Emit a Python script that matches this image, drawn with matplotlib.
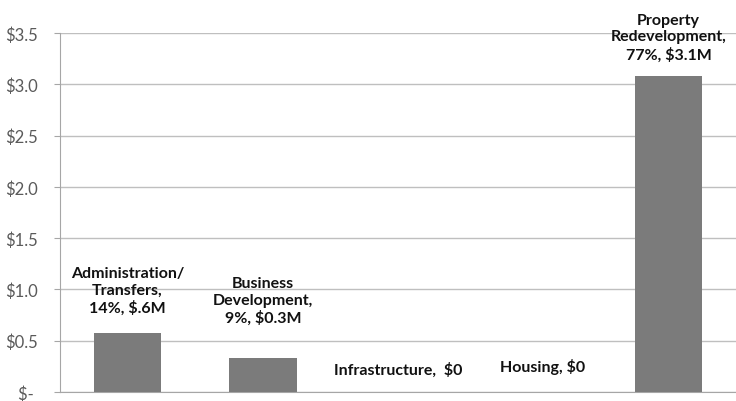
import matplotlib
matplotlib.use("Agg")
import matplotlib.pyplot as plt
from matplotlib.ticker import FixedLocator

# Spending by category, in millions of dollars
categories = ["Administration/\nTransfers", "Business\nDevelopment", "Infrastructure",
              "Housing", "Property\nRedevelopment"]
values = [0.58, 0.33, 0.0, 0.0, 3.08]
label_texts = [
    "Administration/\nTransfers,\n14%, $.6M",
    "Business\nDevelopment,\n9%, $0.3M",
    "Infrastructure,  $0",
    "Housing, $0",
    "Property\nRedevelopment,\n77%, $3.1M",
]
# label centre positions (x offset in category units, y in $M)
label_dx = [0.0, 0.0, 0.0, 0.07, 0.0]
label_y = [0.99, 0.89, 0.22, 0.25, 3.46]

y_ticks = [0.0, 0.5, 1.0, 1.5, 2.0, 2.5, 3.0, 3.5]
y_tick_labels = ["$- ", "$0.5", "$1.0", "$1.5", "$2.0", "$2.5", "$3.0", "$3.5"]

plt.rcParams["font.family"] = ["Lato", "DejaVu Sans"]

fig = plt.figure(figsize=(7.36, 4.02), dpi=100)
ax = fig.add_axes([60 / 736, 1 - 393 / 402, 1 - 60 / 736, (393 - 34) / 402])

x = list(range(len(categories)))
ax.bar(x, values, width=0.5, color="#7b7b7b", zorder=3)

ax.set_xlim(-0.5, len(categories) - 0.5)
ax.set_ylim(0, 3.5)
ax.yaxis.set_major_locator(FixedLocator(y_ticks))
ax.set_yticklabels(y_tick_labels)
ax.set_xticks([])

ax.grid(axis="y", color="#bfbfbf", linewidth=1.0, zorder=0)
ax.set_axisbelow(True)
for side in ("top", "right"):
    ax.spines[side].set_visible(False)
ax.spines["left"].set_color("#a6a6a6")
ax.spines["bottom"].set_color("#a6a6a6")
ax.tick_params(axis="y", length=4, color="#a6a6a6", labelsize=12,
               labelcolor="#5a5a5a", pad=12)

for xi, dx, yi, txt in zip(x, label_dx, label_y, label_texts):
    ax.text(xi + dx, yi, txt, ha="center", va="center", fontsize=11.5,
            fontweight="bold", color="#111111", linespacing=1.25, zorder=4)

fig.savefig("out.png", dpi=100)
